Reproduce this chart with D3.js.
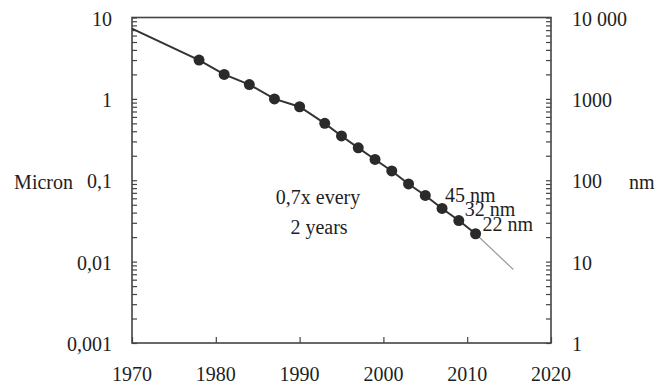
<!DOCTYPE html>
<html>
<head>
<meta charset="utf-8">
<script src="https://cdn.jsdelivr.net/npm/d3@7"></script>
<style>
  body { margin: 0; background: #fff; }
  text { font-family: "Liberation Serif", "Times New Roman", serif; fill: #1e1e1e; }
</style>
</head>
<body>
<div id="chart"></div>
<script>
// feature size by year (micron)
let years = [1978, 1981, 1984, 1987, 1990, 1993, 1995, 1997, 1999, 2001, 2003, 2005, 2007, 2009, 2011];
let sizes = [3.0, 2.0, 1.5, 1.0, 0.8, 0.5, 0.35, 0.25, 0.18, 0.13, 0.09, 0.065, 0.045, 0.032, 0.022];
// trend line start and extrapolated end
let trendStart = [1970, 7.3];
let trendEnd = [2015.5, 0.008];

let xTicks = [1970, 1980, 1990, 2000, 2010, 2020];
let leftTicks = [10, 1, 0.1, 0.01, 0.001];
let leftLabels = ["10", "1", "0,1", "0,01", "0,001"];
let rightTicks = [10000, 1000, 100, 10, 1];
let rightLabels = ["10 000", "1000", "100", "10", "1"];
let nodeLabels = ["45 nm", "32 nm", "22 nm"];
let nodeYears = [2007, 2009, 2011];

let width = 660, height = 385;
let margin = {left: 132, right: 109, top: 17.5, bottom: 42};
let fontSize = "20px";

let svg = d3.select('#chart')
    .append("svg")
    .attr("width", width)
    .attr("height", height);

let x = d3.scaleLinear()
    .domain([1970, 2020])
    .range([margin.left, width - margin.right]);

let y = d3.scaleLog()
    .domain([0.001, 10])
    .range([height - margin.bottom, margin.top]);

let yr = d3.scaleLog()
    .domain([1, 10000])
    .range([height - margin.bottom, margin.top]);

let axisColor = "#444";

// minor ticks 1..9 per decade
let minor = [];
[0.001, 0.01, 0.1, 1].forEach(function(d) {
    for (let k = 1; k <= 9; k++) minor.push(d * k);
});
minor.push(10);
let minorR = minor.map(function(d) { return d * 1000; });

let gl = svg.append("g")
    .attr("transform", `translate(${margin.left},0)`)
    .call(d3.axisLeft(y).tickValues(minor).tickSize(-5).tickFormat(""));
let gr = svg.append("g")
    .attr("transform", `translate(${width - margin.right},0)`)
    .call(d3.axisRight(yr).tickValues(minorR).tickSize(-5).tickFormat(""));
let gb = svg.append("g")
    .attr("transform", `translate(0,${height - margin.bottom})`)
    .call(d3.axisBottom(x).tickValues(xTicks).tickSize(-6).tickFormat(""));

[gl, gr, gb].forEach(function(g) {
    g.selectAll(".domain").remove();
    g.selectAll("line").attr("stroke", axisColor).attr("stroke-width", 1.2);
});

// frame
svg.append("rect")
    .attr("x", x(1970))
    .attr("y", y(10))
    .attr("width", x(2020) - x(1970))
    .attr("height", y(0.001) - y(10))
    .attr("fill", "none")
    .attr("stroke", axisColor)
    .attr("stroke-width", 1.6);

// tick labels
svg.append("g").selectAll("text")
    .data(leftTicks)
    .enter()
    .append("text")
    .attr("x", margin.left - 20)
    .attr("y", function(d) { return y(d) + 8; })
    .style("text-anchor", "end")
    .style("font-size", fontSize)
    .text(function(d, i) { return leftLabels[i]; });

svg.append("g").selectAll("text")
    .data(rightTicks)
    .enter()
    .append("text")
    .attr("x", width - margin.right + 21)
    .attr("y", function(d) { return yr(d) + 8; })
    .style("text-anchor", "start")
    .style("font-size", fontSize)
    .text(function(d, i) { return rightLabels[i]; });

svg.append("g").selectAll("text")
    .data(xTicks)
    .enter()
    .append("text")
    .attr("x", function(d) { return x(d); })
    .attr("y", 381)
    .style("text-anchor", "middle")
    .style("font-size", fontSize)
    .text(function(d) { return d; });

svg.append("text")
    .attr("x", 73)
    .attr("y", 189)
    .style("text-anchor", "end")
    .style("font-size", fontSize)
    .text("Micron");

svg.append("text")
    .attr("x", 629)
    .attr("y", 189)
    .style("font-size", fontSize)
    .text("nm");

// extrapolated thin line
svg.append("path")
    .datum([[years[years.length - 1], sizes[sizes.length - 1]], trendEnd])
    .attr("fill", "none")
    .attr("stroke", "#999")
    .attr("stroke-width", 1.2)
    .attr("d", d3.line()
        .x(function(d) { return x(d[0]); })
        .y(function(d) { return y(d[1]); }));

// main trend line
let pts = [trendStart].concat(years.map(function(d, i) { return [d, sizes[i]]; }));
svg.append("path")
    .datum(pts)
    .attr("fill", "none")
    .attr("stroke", "#333")
    .attr("stroke-width", 2)
    .attr("d", d3.line()
        .x(function(d) { return x(d[0]); })
        .y(function(d) { return y(d[1]); }));

svg.append("g")
    .selectAll("circle")
    .data(years)
    .enter()
    .append("circle")
    .attr("cx", function(d) { return x(d); })
    .attr("cy", function(d, i) { return y(sizes[i]); })
    .attr("r", 5.5)
    .attr("fill", "#2a2a2a");

// node labels, nudged off their dots
let labelDx = [3, 6, 7], labelDy = [-6, -5, -3];
svg.append("g").selectAll("text")
    .data(nodeYears)
    .enter()
    .append("text")
    .attr("x", function(d, i) { return x(d) + labelDx[i]; })
    .attr("y", function(d, i) { return y(sizes[years.indexOf(d)]) + labelDy[i]; })
    .style("font-size", fontSize)
    .text(function(d, i) { return nodeLabels[i]; });

svg.append("text")
    .attr("x", 318)
    .attr("y", 204)
    .style("text-anchor", "middle")
    .style("font-size", fontSize)
    .text("0,7x every");
svg.append("text")
    .attr("x", 319)
    .attr("y", 234)
    .style("text-anchor", "middle")
    .style("font-size", fontSize)
    .text("2 years");
</script>
</body>
</html>
